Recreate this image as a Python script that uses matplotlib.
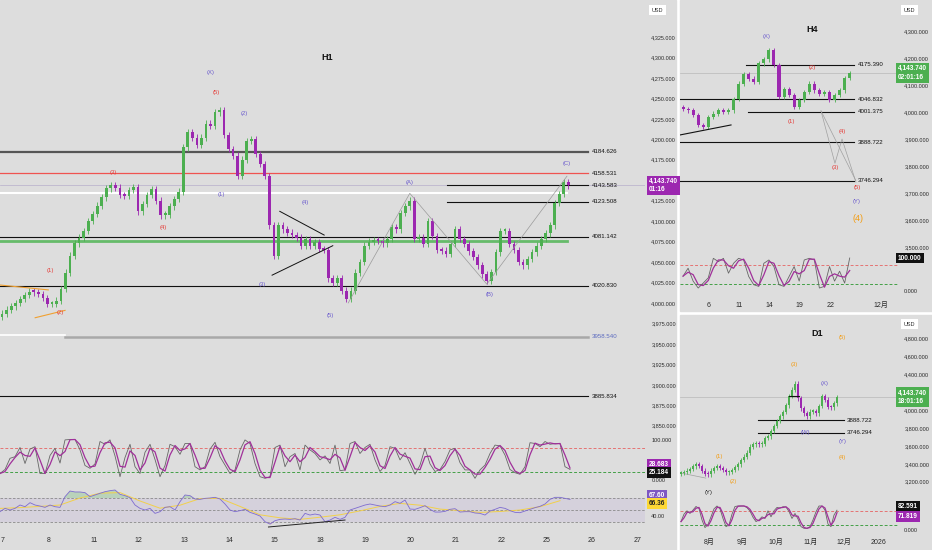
import numpy as np
import pandas as pd
import matplotlib
matplotlib.use("Agg")
import matplotlib.pyplot as plt
from matplotlib import font_manager
from matplotlib.patches import Rectangle
from matplotlib.transforms import blended_transform_factory

# ---------------- data ----------------
# H1 candles (closes, ~10 per trading day)
H1_CLOSE = [3987, 3992, 3996, 4000, 4005, 4010, 4014, 4013, 4011, 4006,
            3999, 3999, 4003, 4017, 4037, 4058, 4073, 4080, 4088, 4100,
            4109, 4119, 4129, 4140, 4144, 4141, 4132, 4131, 4138, 4142,
            4112, 4121, 4132, 4139, 4125, 4107, 4108, 4118, 4127, 4136,
            4190, 4209, 4202, 4193, 4202, 4219, 4216, 4233, 4236, 4205,
            4188, 4180, 4155, 4175, 4198, 4200, 4182, 4170, 4155, 4095,
            4058, 4095, 4090, 4086, 4083, 4080, 4070, 4078, 4070, 4074,
            4066, 4065, 4030, 4025, 4030, 4015, 4005, 4015, 4037, 4050,
            4070, 4075, 4077, 4076, 4073, 4078, 4093, 4090, 4110, 4118,
            4125, 4078, 4080, 4072, 4100, 4082, 4065, 4064, 4060, 4072,
            4090, 4078, 4072, 4063, 4056, 4046, 4035, 4027, 4038, 4062,
            4088, 4088, 4072, 4065, 4050, 4046, 4054, 4062, 4070, 4078,
            4085, 4095, 4122, 4133, 4148, 4143.74]
H1_FIRST_OPEN = 3983

H1_STOCH_K = [15, 25, 53, 57, 80, 40, 76, 82, 15, 15, 60, 78, 41, 99, 100, 100, 74, 35, 28, 39,
              95, 88, 99, 59, 7, 55, 88, 32, 15, 68, 88, 50, 7, 35, 88, 82, 63, 90, 90, 32,
              24, 32, 76, 93, 57, 36, 15, 24, 74, 99, 90, 40, 7, 3, 7, 80, 86, 32, 57, 65,
              24, 86, 74, 65, 49, 59, 40, 86, 22, 24, 90, 95, 65, 80, 88, 49, 20, 35, 82, 78,
              49, 67, 40, 13, 36, 78, 39, 20, 25, 45, 74, 78, 42, 24, 24, 3, 24, 36, 65, 86,
              84, 61, 25, 17, 13, 32, 92, 90, 82, 95, 88, 90, 90, 32, 25.2]

H1_RSI = [47.2, 52.7, 50, 52.7, 58.3, 55.5, 62.2, 58.3, 56.6, 54.4, 58.3, 55.5, 54.4, 72.2, 81.6,
          80, 80, 78.9, 72.2, 75, 77.8, 80.5, 82.2, 83.3, 76.1, 73.9, 70.5, 58.3, 52.7, 50,
          52.7, 44.4, 47.2, 54.4, 55.5, 50, 63.9, 75, 73.9, 68.3, 67.7, 69.4, 70, 71.1, 68.3,
          60, 50, 47.2, 48.9, 51.1, 46.1, 43.3, 40, 30.5, 26.6, 32.2, 34.4, 35, 34.4, 35.5,
          33.3, 44.4, 41.6, 43.3, 41.6, 30.5, 33.3, 37.8, 34.4, 37.8, 50, 52.7, 55.5, 58.3,
          60, 58.3, 56.6, 55.5, 58.3, 63.9, 61.1, 66.6, 51.6, 51.1, 53.9, 57.2, 51.1, 46.6,
          46.6, 47.7, 51.1, 52.2, 46.6, 47.2, 47.2, 45, 44.4, 41.6, 48.3, 51.1, 54.4, 52.7,
          48.9, 46.1, 45.5, 48.3, 51.1, 53.9, 56.1, 60, 67.7, 71.1, 71.1, 69.4, 67.6]
H1_RSI_MA = [52.7, 54, 56, 58.3, 70, 78, 79, 65, 53, 58, 69, 69.4, 56, 42, 37,
             34.4, 38, 42, 48.5, 56, 61, 58, 51.5, 49, 46, 47.5, 50, 55.5, 65.5]

H1_LEVELS = [4184.626, 4158.531, 4143.583, 4123.508, 4081.142, 4020.830, 3958.540, 3885.834]
H1_LEVEL_START = [-0.07, -0.07, 9.8, 9.8, -0.07, -0.07, 1.37, -0.07]
H1_DAYS = ["7", "8", "11", "12", "13", "14", "15", "18", "19", "20", "21", "22", "25", "26", "27"]

H1_WAVES = [("(X)", 4.59, 4282, "purple"), ("(5)", 4.70, 4257, "red"), ("(2)", 5.32, 4232, "purple"),
            ("(3)", 2.43, 4159, "red"), ("(4)", 3.53, 4092, "red"), ("(1)", 4.83, 4133, "purple"),
            ("(4)", 6.67, 4123, "purple"), ("(3)", 5.72, 4023, "purple"), ("(5)", 7.22, 3985, "purple"),
            ("(A)", 8.98, 4147, "purple"), ("(B)", 10.73, 4010, "purple"), ("(C)", 12.45, 4170, "purple"),
            ("(1)", 1.04, 4040, "red"), ("(2)", 1.26, 3988, "red")]

# H4 candles (2 per trading day)
H4_CLOSE = [4012, 4006, 3988, 3951, 3945, 3982, 3994, 4006, 4000, 4006, 4049, 4105, 4140, 4124,
            4111, 4180, 4195, 4230, 4174, 4056, 4084, 4063, 4019, 4044, 4074, 4105, 4080, 4068,
            4074, 4044, 4063, 4080, 4126, 4143.74]
H4_FIRST_OPEN = 4018
H4_STOCH_K = [45, 69, 30, 9, 24, 40, 99, 89, 99, 54, 84, 99, 94, 44, 19, 14, 84, 94, 74, 19,
              14, 44, 74, 30, 94, 99, 94, 9, 14, 74, 30, 60, 24, 100]
H4_LEVELS = [4175.390, 4046.832, 4001.375, 3888.722, 3746.294]
H4_LEVEL_START = [3.66, -2.9, 3.86, -2.9, -2.9]
H4_DAYS = ["6", "11", "14", "19", "22", "12月"]
H4_DAY_POS = [0, 3, 6, 9, 12, 17]
H4_WAVES = [("(X)", 5.74, 4281, "purple"), ("(2)", 10.2, 4163, "red"), ("(1)", 8.12, 3963, "red"),
            ("(4)", 13.17, 3926, "red"), ("(3)", 12.47, 3793, "red"), ("(5)", 14.65, 3719, "red"),
            ("(Y)", 14.65, 3670, "purple")]

# D1 candles (one per two sessions)
D1_CLOSE = [3297, 3308, 3323, 3340, 3370, 3398, 3376, 3324, 3290, 3283, 3324, 3356, 3370, 3352,
            3330, 3304, 3311, 3330, 3360, 3393, 3442, 3480, 3525, 3592, 3618, 3625, 3618, 3625,
            3687, 3707, 3767, 3823, 3879, 3931, 3980, 4054, 4155, 4230, 4297, 4130, 4018, 3963,
            3931, 3983, 3990, 3963, 4045, 4155, 4118, 4036, 4030, 4075, 4143.74]
D1_FIRST_OPEN = 3290
D1_STOCH_K = [35, 66, 80, 69, 83, 98, 90, 42, 10, 23, 55, 88, 100, 88, 48, 14, 21, 66, 98, 100,
              100, 100, 93, 79, 53, 35, 42, 55, 48, 80, 55, 80, 94, 91, 97, 96, 77, 48, 69, 46,
              14, 7, 7, 14, 42, 76, 100, 100, 83, 25, 14, 62, 82.6]
D1_LEVELS = [3888.722, 3746.294]
D1_MONTHS = ["8月", "9月", "10月", "11月", "12月", "2026"]
D1_MONTH_POS = [9.3, 20.3, 31.7, 43.3, 54.3, 65.7]
D1_WAVES = [("(3)", 37.7, 4504, "orange"), ("(5)", 53.7, 4806, "orange"), ("(X)", 47.7, 4292, "purple"),
            ("(W)", 41.3, 3755, "purple"), ("(Y)", 53.7, 3644, "purple"), ("(4)", 53.7, 3465, "orange"),
            ("(1)", 12.7, 3476, "orange"), ("(2)", 17.3, 3197, "orange"), ("(Y)", 9.3, 3074, "black")]

LAST = 4143.74

# ---------------- style ----------------
names = {f.name for f in font_manager.fontManager.ttflist}
NARROW = "Liberation Sans Narrow" if "Liberation Sans Narrow" in names else "Liberation Sans"
plt.rcParams["font.family"] = [NARROW, "Noto Sans CJK JP", "DejaVu Sans"]

BG = "#dddddd"
UP = "#4caf50"
DOWN = "#9c27b0"
WAVE_COL = {"purple": "#6a5acd", "red": "#e53935", "orange": "#f39c12", "black": "#222222"}
TXT = "#2b2b2b"
FS = 4.0

W, H = 932, 550
fig = plt.figure(figsize=(W / 100, H / 100), dpi=100, facecolor="white")


def px_axes(x0, y0, x1, y1):
    ax = fig.add_axes([x0 / W, 1 - y1 / H, (x1 - x0) / W, (y1 - y0) / H])
    ax.set_facecolor("none")
    for s in ax.spines.values():
        s.set_visible(False)
    ax.tick_params(length=0, labelsize=FS, colors=TXT)
    ax.set_xticks([])
    ax.yaxis.tick_right()
    return ax


def panel(x0, y0, x1, y1):
    fig.add_artist(Rectangle((x0 / W, 1 - y1 / H), (x1 - x0) / W, (y1 - y0) / H,
                             transform=fig.transFigure, color=BG, zorder=-5))


def price_ticks(ax, vals, pad):
    ax.set_yticks(vals)
    ax.set_yticklabels([f"{v:,.3f}" for v in vals])
    ax.tick_params(axis="y", pad=pad)


def draw_candles(ax, t, closes, first_open, width, wick):
    c = np.asarray(closes, float)
    o = np.r_[first_open, c[:-1]]
    up = c >= o
    cols = np.where(up, UP, DOWN)
    ax.vlines(t, np.minimum(o, c) - wick, np.maximum(o, c) + wick, colors=cols, lw=0.6, zorder=4)
    ax.bar(t, np.maximum(np.abs(c - o), wick * 0.6), bottom=np.minimum(o, c), width=width,
           color=cols, linewidth=0, zorder=5)


def right_box(ax, y, text, fc, tc="white", va="center", x=1.012, fs=4.7):
    tr = blended_transform_factory(ax.transAxes, ax.transData)
    ax.text(x, y, text, transform=tr, ha="left", va=va, fontsize=fs, color=tc,
            fontweight="bold", clip_on=False, linespacing=1.35, zorder=20,
            bbox=dict(boxstyle="square,pad=0.3", fc=fc, ec="none"))


def waves(ax, items, fs=4.2):
    for txt, t, p, c in items:
        ax.text(t, p, txt, ha="center", va="center", fontsize=fs, color=WAVE_COL[c], zorder=8)


def usd_box(x, y):
    fig.text(x / W, 1 - y / H, "USD", fontsize=FS, color=TXT, ha="left", va="center",
             bbox=dict(boxstyle="square,pad=0.5", fc="white", ec="none"))


def stoch(ax, t, k, hi=80, lo=20):
    d = pd.Series(k).rolling(2, min_periods=1).mean()
    ax.axhline(hi, color="#e57373", lw=0.7, ls=(0, (3, 2)))
    ax.axhline(lo, color="#43a047", lw=0.7, ls=(0, (3, 2)))
    ax.plot(t, k, color="#666666", lw=0.6, zorder=3)
    ax.plot(t, d, color="#a0309a", lw=0.9, zorder=4)


# ---------------- backgrounds ----------------
panel(0, 0, 676, 550)
panel(680, 0, 932, 311)
panel(680, 315, 932, 550)

# ================= H1 main =================
axp = px_axes(0, 0, 645, 432)
X0, X1 = (0 - 3) / 45.3, (645 - 3) / 45.3
axp.set_xlim(X0, X1)
axp.set_ylim(4000 - 129 * 1.2218, 4000 + 303 * 1.2218)
price_ticks(axp, np.arange(3850, 4326, 25), 4.5)

t_h1 = -0.02 + 0.1 * np.arange(len(H1_CLOSE))
draw_candles(axp, t_h1, H1_CLOSE, H1_FIRST_OPEN, 0.06, 4)

end_t = (588 - 3) / 45.3
lvl_col = ["#555555", "#ef5350", "#111111", "#111111", "#111111", "#111111", "#a8a8a8", "#111111"]
lvl_lw = [1.6, 0.9, 0.8, 0.8, 0.8, 0.8, 1.8, 0.8]
for lv, st, c, lw in zip(H1_LEVELS, H1_LEVEL_START, lvl_col, lvl_lw):
    axp.plot([st, end_t], [lv, lv], color=c, lw=lw, zorder=2)
    axp.text(end_t + 0.09, lv, f"{lv:.3f}", fontsize=4.4, va="center", ha="left",
             color="#5c6bc0" if lv == 3958.540 else "#111111")
axp.plot([X0, 12.45], [4134, 4134], color="white", lw=1.5, zorder=2)
axp.plot([X0, 12.45], [4076, 4076], color="#66bb6a", lw=2, zorder=2)
axp.plot([X0, 1.37], [3961, 3961], color="white", lw=1.2, zorder=2)
axp.axhline(LAST, color="#b7aecb", lw=0.5, zorder=1)

# triangle + wave paths
axp.plot([6.11, 7.09], [4112, 4083], color="#111111", lw=0.7, zorder=6)
axp.plot([5.94, 7.28], [4034, 4070], color="#111111", lw=0.7, zorder=6)
axp.plot([7.62, 8.98, 10.68, 12.45], [4000, 4134, 4023, 4155], color="#9a9a9a", lw=0.5, zorder=6)
axp.plot([-0.07, 1.0], [4022, 4016], color="#f0a030", lw=0.8, zorder=6)
axp.plot([0.71, 1.37], [3982, 3991], color="#f0a030", lw=0.8, zorder=6)
waves(axp, H1_WAVES)
axp.text(327 / 645, 1 - 57 / 432, "H1", transform=axp.transAxes, fontsize=6.5,
         fontweight="bold", ha="center", va="center", color="#111111")
right_box(axp, LAST, "4,143.740\n01:16", "#9c27b0", x=1.006)
usd_box(652, 10)

# stochastic
axs = px_axes(0, 432, 645, 487)
axs.set_xlim(X0, X1)
axs.set_ylim(-18.75, 118.75)
t_k = -0.066 + (5 / 45.3) * np.arange(len(H1_STOCH_K))
stoch(axs, t_k, H1_STOCH_K)
axs.set_yticks([0, 100])
axs.set_yticklabels(["0.000", "100.000"])
axs.tick_params(axis="y", pad=4.5)
right_box(axs, 28.683, "28.683", "#9c27b0", va="bottom", x=1.006)
right_box(axs, 25.184, "25.184", "#111111", va="top", x=1.006)

# RSI
axr = px_axes(0, 487, 645, 530)
axr.set_xlim(X0, X1)
axr.set_ylim(16.7, 88.3)
t_r = -0.066 + (5 / 45.3) * np.arange(len(H1_RSI))
rsi = np.asarray(H1_RSI)
axr.axhspan(30, 70, color="#b39ddb", alpha=0.18, lw=0)
for lv in (70, 50, 30):
    axr.axhline(lv, color="#8a8a8a", lw=0.6, ls=(0, (3, 2)))
axr.fill_between(t_r, rsi, 70, where=rsi > 70, color="#66bb6a", alpha=0.3, lw=0, interpolate=True)
axr.fill_between(t_r, rsi, 30, where=rsi < 30, color="#ef5350", alpha=0.2, lw=0, interpolate=True)
t_ma = -0.066 + (20 / 45.3) * np.arange(len(H1_RSI_MA))
axr.plot(t_ma, H1_RSI_MA, color="#f2d04a", lw=0.7)
axr.plot(t_r, rsi, color="#7e6bd0", lw=0.6)
axr.plot([5.86, 7.55], [21.7, 33.3], color="#222222", lw=0.7)
axr.set_yticks([40, 80])
axr.set_yticklabels(["40.00", "80.00"])
axr.tick_params(axis="y", pad=4.5)
right_box(axr, 67.6, "67.60", "#7e57c2", va="bottom", x=1.006)
right_box(axr, 66.36, "66.36", "#fdd835", tc="#222222", va="top", x=1.006)
axr.set_xticks(np.arange(len(H1_DAYS)))
axr.set_xticklabels(H1_DAYS)
axr.tick_params(axis="x", pad=5, labelsize=5)

# ================= H4 =================
R = 898
a4 = px_axes(680, 0, R, 250)
a4.set_xlim((680 - 709) / 10.1, (R - 709) / 10.1)
a4.set_ylim(4000 - 138 / 0.27, 4000 + 112 / 0.27)
price_ticks(a4, np.arange(3500, 4301, 100), 4.5)
t_h4 = -2.57 + 0.5 * np.arange(len(H4_CLOSE))
draw_candles(a4, t_h4, H4_CLOSE, H4_FIRST_OPEN, 0.3, 8)
end4 = (854 - 709) / 10.1
for lv, st in zip(H4_LEVELS, H4_LEVEL_START):
    a4.plot([st, end4], [lv, lv], color="#111111", lw=0.8, zorder=2)
    a4.text(end4 + 0.4, lv, f"{lv:.3f}", fontsize=4.4, va="center", ha="left", color="#111111")
a4.axhline(LAST, color="#b9b9b9", lw=0.5, zorder=1)
a4.plot([-2.87, 2.18], [3915, 3952], color="#111111", lw=0.8, zorder=6)
a4.plot([11.09, 12.47, 13.17, 14.55], [4004, 3810, 3900, 3740], color="#a0a0a0", lw=0.5)
a4.plot([11.09, 14.55], [4004, 3745], color="#a0a0a0", lw=0.5)
waves(a4, H4_WAVES)
a4.text(14.75, 3607, "(4)", ha="center", va="center", fontsize=6.5, color="#f39c12")
a4.text((812 - 680) / (R - 680), 1 - 29 / 250, "H4", transform=a4.transAxes, fontsize=6.5,
        fontweight="bold", ha="center", va="center", color="#111111")
right_box(a4, LAST, "4,143.740\n02:01:16", "#4caf50", x=1.0)
usd_box(904, 10)

s4 = px_axes(680, 250, R, 298)
s4.set_xlim((680 - 709) / 10.1, (R - 709) / 10.1)
s4.set_ylim((291 - 298) / 0.33, (291 - 250) / 0.33)
stoch(s4, t_h4, H4_STOCH_K)
s4.set_yticks([0])
s4.set_yticklabels(["0.000"])
s4.tick_params(axis="y", pad=4.5)
right_box(s4, 100, "100.000", "#111111", x=1.0)
s4.set_xticks(H4_DAY_POS)
s4.set_xticklabels(H4_DAYS)
s4.tick_params(axis="x", pad=3, labelsize=5)

# ================= D1 =================
a1 = px_axes(680, 315, R, 500)
a1.set_xlim(-0.33, (R - 681) / 3)
a1.set_ylim(3800 - 72 / 0.0895, 3800 + 113 / 0.0895)
price_ticks(a1, np.arange(3200, 4801, 200), 4.5)
t_d1 = np.arange(len(D1_CLOSE))
draw_candles(a1, t_d1, D1_CLOSE, D1_FIRST_OPEN, 0.6, 25)
for lv in D1_LEVELS:
    a1.plot([25.7, 54.3], [lv, lv], color="#111111", lw=0.8, zorder=2)
    a1.text(55.3, lv, f"{lv:.3f}", fontsize=4.4, va="center", ha="left", color="#111111")
a1.plot([36, 39.3], [4157, 4157], color="#111111", lw=0.8, zorder=6)
a1.axhline(LAST, color="#b9b9b9", lw=0.5, zorder=1)
a1.plot([0, 8.3], [3297, 3240], color="#a0a0a0", lw=0.5)
waves(a1, D1_WAVES)
a1.text((817 - 680) / (R - 680), 1 - (333 - 315) / 185, "D1", transform=a1.transAxes, fontsize=6.5,
        fontweight="bold", ha="center", va="center", color="#111111")
right_box(a1, LAST, "4,143.740\n18:01:16", "#4caf50", x=1.0)
usd_box(904, 324)

s1 = px_axes(680, 500, R, 535)
s1.set_xlim(-0.33, (R - 681) / 3)
s1.set_ylim((530 - 535) / 0.24, (530 - 500) / 0.24)
stoch(s1, t_d1, D1_STOCH_K)
s1.set_yticks([0])
s1.set_yticklabels(["0.000"])
s1.tick_params(axis="y", pad=4.5)
right_box(s1, 82.591, "82.591", "#111111", va="bottom", x=1.0)
right_box(s1, 71.819, "71.819", "#9c27b0", va="top", x=1.0)
s1.set_xticks(D1_MONTH_POS)
s1.set_xticklabels(D1_MONTHS)
s1.tick_params(axis="x", pad=3, labelsize=5)

fig.savefig("out.png", dpi=100, facecolor="white")
